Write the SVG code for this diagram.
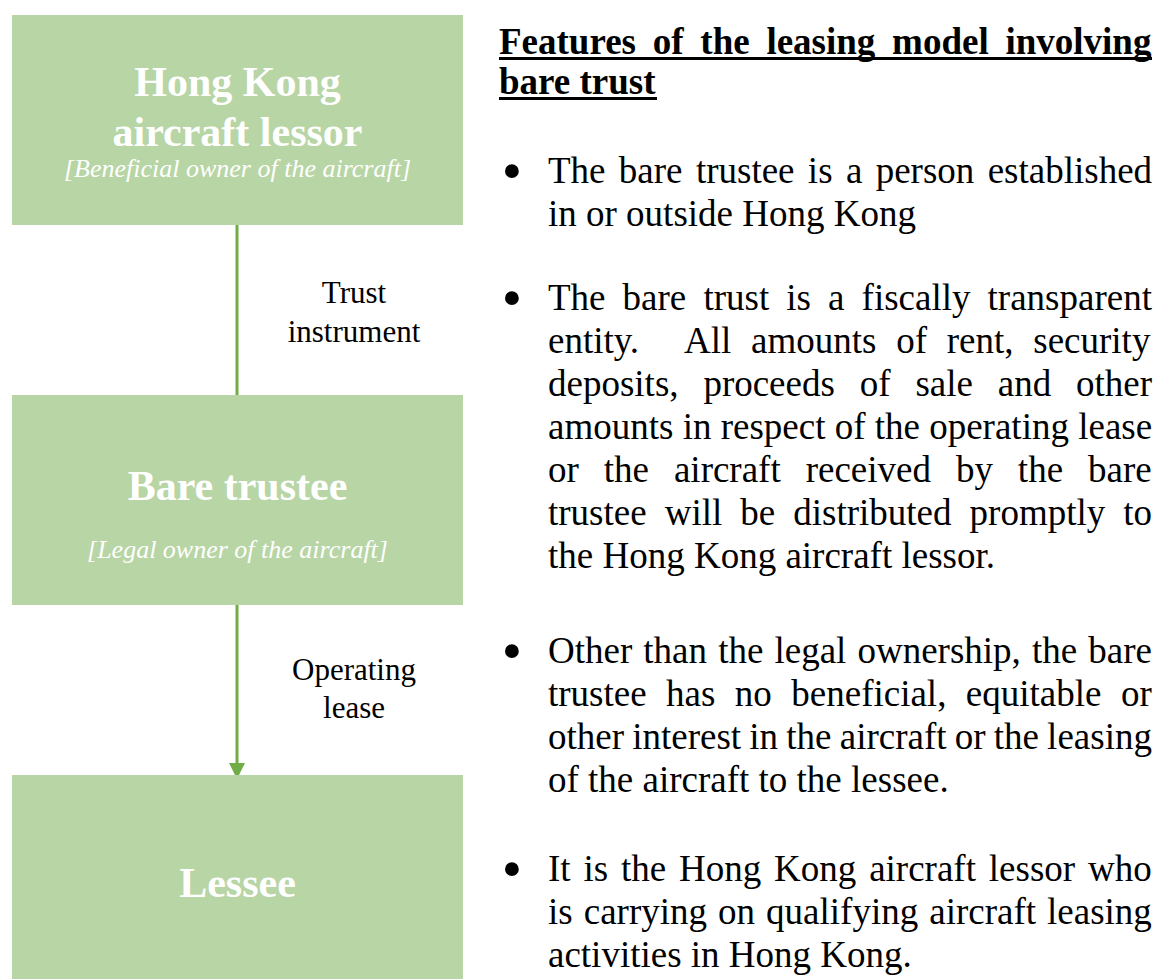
<svg xmlns="http://www.w3.org/2000/svg" width="1154" height="979" viewBox="0 0 1154 979">
  <defs>
    <style>
      .box { fill: #B8D5A5; }
      .title { font-family: "Liberation Serif", "Times New Roman", serif; font-weight: bold; font-size: 42px; fill: #FFFFFF; text-anchor: middle; }
      .sub { font-family: "Liberation Serif", "Times New Roman", serif; font-style: italic; font-size: 26px; fill: #FFFFFF; text-anchor: middle; }
      .lbl { font-family: "Liberation Serif", "Times New Roman", serif; font-size: 31px; fill: #000000; text-anchor: middle; }
      .conn { stroke: #70AD47; stroke-width: 3; fill: none; }
      .head { font-family: "Liberation Serif", "Times New Roman", serif; font-weight: bold; font-size: 37px; fill: #000000; }
      .body { font-family: "Liberation Serif", "Times New Roman", serif; font-size: 37px; fill: #000000; }
      .dot { font-family: "Liberation Serif", "Times New Roman", serif; font-size: 58px; fill: #000000; text-anchor: middle; }
      .rule { fill: #000000; }
    </style>
    <marker id="arrow" markerWidth="16" markerHeight="16" viewBox="0 0 16 16" refX="16" refY="8" orient="auto" markerUnits="userSpaceOnUse">
      <path d="M0,0 L16,8 L0,16 Z" fill="#70AD47"/>
    </marker>
  </defs>

  <rect width="1154" height="979" fill="#FFFFFF"/>

  <!-- connectors -->
  <g id="connectors">
    <line class="conn" x1="237" y1="225" x2="237" y2="395"/>
    <line class="conn" x1="237" y1="605" x2="237" y2="779" marker-end="url(#arrow)"/>
    <text class="lbl" x="354" y="303">Trust</text>
    <text class="lbl" x="354" y="342">instrument</text>
    <text class="lbl" x="354" y="680">Operating</text>
    <text class="lbl" x="354" y="718">lease</text>
  </g>

  <!-- parties -->
  <g id="lessor">
    <rect class="box" x="12" y="15" width="451" height="210"/>
    <text class="title" x="237.5" y="96">Hong Kong</text>
    <text class="title" x="237.5" y="146">aircraft lessor</text>
    <text class="sub" x="237.5" y="177">[Beneficial owner of the aircraft]</text>
  </g>

  <g id="trustee">
    <rect class="box" x="12" y="395" width="451" height="210"/>
    <text class="title" x="237.5" y="500">Bare trustee</text>
    <text class="sub" x="237.5" y="558">[Legal owner of the aircraft]</text>
  </g>

  <g id="lessee">
    <rect class="box" x="12" y="775" width="451" height="204"/>
    <text class="title" x="237.5" y="897">Lessee</text>
  </g>

  <!-- feature notes -->
  <g id="features">
    <text class="head" x="499" y="54" word-spacing="7.5">Features of the leasing model involving</text>
    <text class="head" x="499" y="94">bare trust</text>
    <rect class="rule" x="499" y="57" width="653" height="3"/>
    <rect class="rule" x="499" y="97" width="158" height="3"/>

    <text class="dot" x="512" y="190">•</text>
    <text class="body" x="548" y="183" word-spacing="4.1">The bare trustee is a person established</text>
    <text class="body" x="548" y="226">in or outside Hong Kong</text>

    <text class="dot" x="512" y="317">•</text>
    <text class="body" x="548" y="310" word-spacing="7.85">The bare trust is a fiscally transparent</text>
    <text class="body" y="353"><tspan x="548">entity.</tspan><tspan x="684" word-spacing="10.5">All amounts of rent, security</tspan></text>
    <text class="body" x="548" y="396" word-spacing="15.6">deposits, proceeds of sale and other</text>
    <text class="body" x="548" y="439" word-spacing="0">amounts in respect of the operating lease</text>
    <text class="body" x="548" y="482" word-spacing="15.7">or the aircraft received by the bare</text>
    <text class="body" x="548" y="525" word-spacing="8.8">trustee will be distributed promptly to</text>
    <text class="body" x="548" y="568">the Hong Kong aircraft lessor.</text>

    <text class="dot" x="512" y="670">•</text>
    <text class="body" x="548" y="663" word-spacing="1.85">Other than the legal ownership, the bare</text>
    <text class="body" x="548" y="706" word-spacing="10.2">trustee has no beneficial, equitable or</text>
    <text class="body" x="548" y="749" word-spacing="-1.05">other interest in the aircraft or the leasing</text>
    <text class="body" x="548" y="792">of the aircraft to the lessee.</text>

    <text class="dot" x="512" y="888">•</text>
    <text class="body" x="548" y="881" word-spacing="3.6">It is the Hong Kong aircraft lessor who</text>
    <text class="body" x="548" y="924" word-spacing="1.8">is carrying on qualifying aircraft leasing</text>
    <text class="body" x="548" y="967">activities in Hong Kong.</text>
  </g>
</svg>
